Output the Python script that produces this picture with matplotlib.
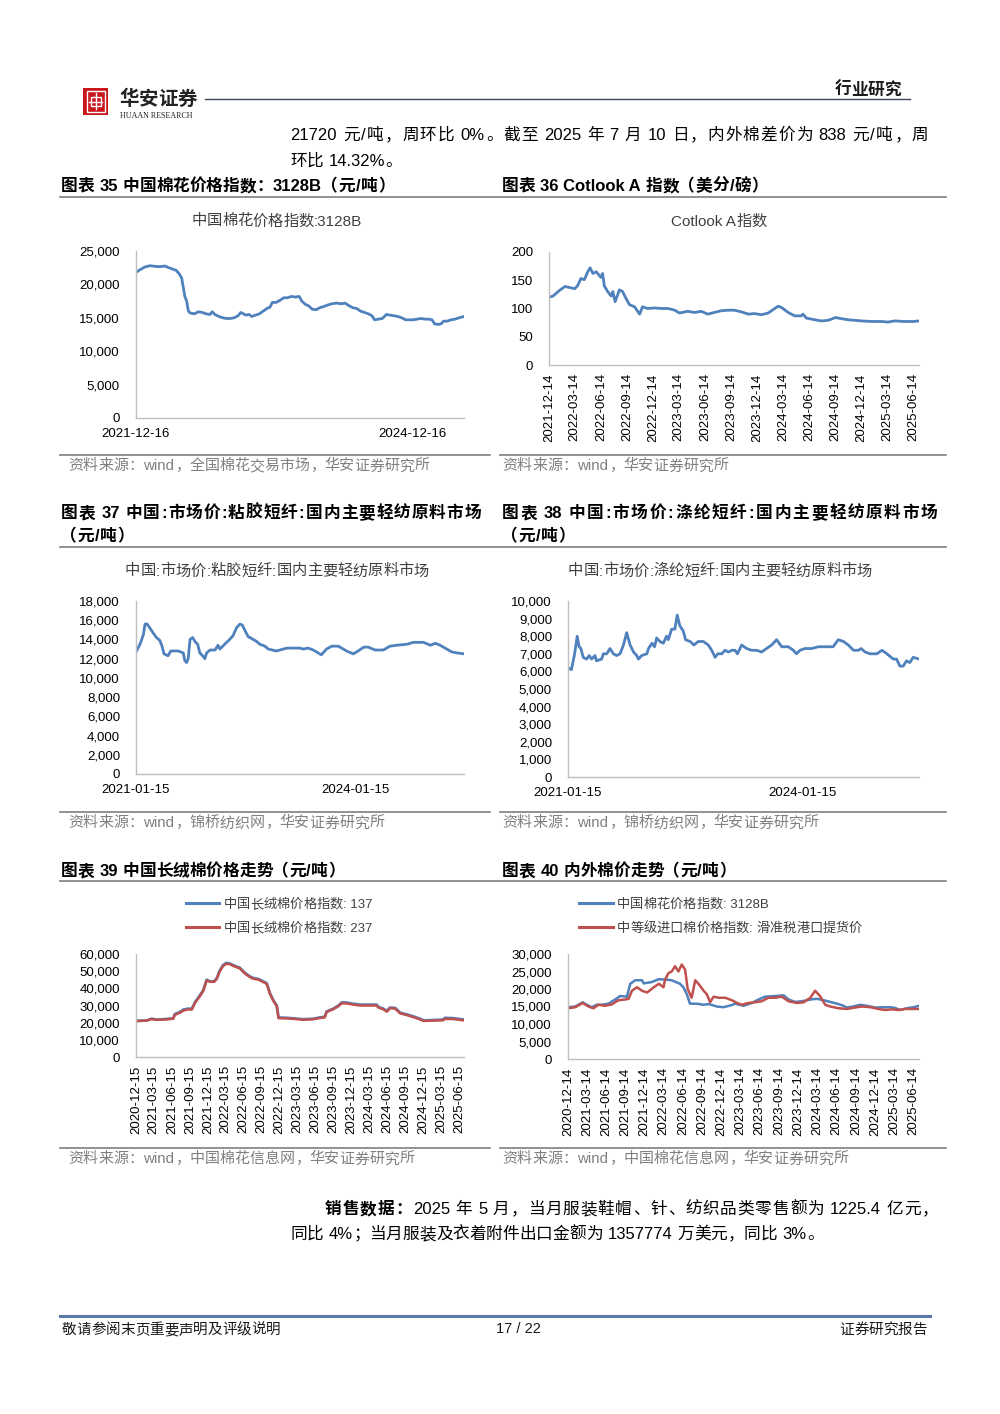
import re
import matplotlib
matplotlib.use('Agg')
import matplotlib.pyplot as plt
import numpy as np
import pandas as pd
from matplotlib.lines import Line2D
from matplotlib.patches import Rectangle
from matplotlib.ticker import FuncFormatter

# ---------------- data ----------------
c35_dates = ['2021-12-16','2022-01-01','2022-01-20','2022-02-10','2022-03-01','2022-03-20','2022-04-10','2022-04-25',
             '2022-05-10','2022-05-25','2022-06-05','2022-06-15','2022-06-22','2022-06-28','2022-07-05','2022-07-12',
             '2022-07-20','2022-08-05','2022-08-20','2022-09-05','2022-09-20','2022-10-05','2022-10-15','2022-10-25',
             '2022-11-10','2022-11-25','2022-12-10','2022-12-25','2023-01-10','2023-01-25','2023-02-05','2023-02-15',
             '2023-02-25','2023-03-10','2023-03-20','2023-04-05','2023-04-20','2023-05-05','2023-05-20','2023-06-01',
             '2023-06-10','2023-06-25','2023-07-10','2023-07-25','2023-08-10','2023-08-25','2023-09-10','2023-09-25',
             '2023-10-05','2023-10-20','2023-11-01','2023-11-15','2023-12-01','2023-12-15','2024-01-01','2024-01-15',
             '2024-02-01','2024-02-20','2024-03-10','2024-03-25','2024-04-10','2024-04-25','2024-05-10','2024-05-25',
             '2024-06-10','2024-06-25','2024-07-10','2024-07-20','2024-08-05','2024-08-20','2024-09-05','2024-09-20',
             '2024-10-05','2024-10-20','2024-11-05','2024-11-20','2024-12-05','2024-12-20','2025-01-05','2025-01-20',
             '2025-02-05','2025-02-20','2025-03-05','2025-03-15','2025-03-30','2025-04-10','2025-04-20','2025-05-05',
             '2025-05-20','2025-06-05','2025-06-20','2025-07-10']
c35_vals = [21800, 22200, 22600, 22800, 22700, 22650, 22750, 22500,
            22300, 22100, 21600, 21000, 19500, 18200, 17500, 16000,
            15700, 15600, 15900, 15800, 15600, 15500, 15900, 15500,
            15200, 15000, 14900, 14900, 15000, 15300, 15800, 15600,
            15400, 15500, 15200, 15400, 15600, 16000, 16400, 16600,
            17300, 17300, 17600, 18000, 18000, 18200, 18100, 18200,
            17500, 17000, 16800, 16300, 16200, 16500, 16700, 16900,
            17100, 17200, 17100, 17200, 16800, 16500, 16400, 16000,
            15800, 15600, 15300, 14700, 14800, 14900, 15500, 15400,
            15300, 15200, 15000, 14700, 14700, 14700, 14800, 14900,
            14800, 14800, 14700, 14100, 14000, 14100, 14500, 14500,
            14700, 14800, 15000, 15200]

c36_dates = ['2021-12-14','2021-12-28','2022-01-20','2022-02-08','2022-02-26','2022-03-14','2022-03-24','2022-04-05',
             '2022-04-17','2022-04-29','2022-05-07','2022-05-17','2022-05-29','2022-06-14','2022-06-20','2022-06-26',
             '2022-07-08','2022-07-20','2022-07-26','2022-08-03','2022-08-18','2022-08-29','2022-09-10','2022-09-22',
             '2022-10-10','2022-10-28','2022-11-07','2022-11-25','2022-12-20','2023-01-14','2023-02-05','2023-02-28',
             '2023-03-17','2023-04-14','2023-05-08','2023-06-01','2023-06-24','2023-07-17','2023-08-10','2023-09-03',
             '2023-09-26','2023-10-20','2023-11-14','2023-12-05','2023-12-29','2024-01-22','2024-02-14','2024-02-26',
             '2024-03-08','2024-04-01','2024-04-24','2024-05-17','2024-05-23','2024-06-04','2024-07-04','2024-07-26',
             '2024-08-19','2024-09-14','2024-10-05','2024-10-29','2024-11-22','2024-12-14','2025-01-20','2025-02-23',
             '2025-03-17','2025-04-10','2025-05-14','2025-06-14','2025-07-04']
c36_vals = [120, 122, 132, 139, 137, 135, 140, 153,
            151, 165, 172, 162, 165, 155, 162, 140,
            130, 122, 130, 112, 133, 130, 118, 107,
            103, 90, 103, 100, 101, 100, 100, 97,
            92, 95, 93, 95, 90, 93, 96, 97,
            97, 94, 90, 91, 89, 92, 100, 104,
            102, 93, 87, 87, 90, 83, 80, 78,
            79, 84, 82, 80, 79, 78, 77, 77,
            76, 78, 77, 77, 78]
c36_ticks = ['2021-12-14','2022-03-14','2022-06-14','2022-09-14','2022-12-14','2023-03-14','2023-06-14',
             '2023-09-14','2023-12-14','2024-03-14','2024-06-14','2024-09-14','2024-12-14','2025-03-14','2025-06-14']

c37_dates = ['2021-01-15','2021-02-04','2021-02-21','2021-03-01','2021-03-12','2021-03-25','2021-04-10','2021-04-27',
             '2021-05-14','2021-05-25','2021-06-04','2021-06-24','2021-07-08','2021-08-14','2021-09-08','2021-09-16',
             '2021-09-25','2021-10-03','2021-10-12','2021-10-25','2021-11-05','2021-11-19','2021-11-30','2021-12-14',
             '2021-12-25','2022-01-03','2022-01-20','2022-02-14','2022-03-01','2022-03-10','2022-04-03','2022-04-28',
             '2022-05-15','2022-06-01','2022-06-18','2022-06-30','2022-07-12','2022-07-29','2022-08-24','2022-09-09',
             '2022-09-26','2022-10-21','2022-11-07','2022-12-18','2023-01-21','2023-02-08','2023-04-14','2023-05-01',
             '2023-05-25','2023-06-20','2023-07-14','2023-07-30','2023-08-25','2023-09-20','2023-10-23','2023-12-03',
             '2024-01-06','2024-01-30','2024-02-27','2024-03-20','2024-04-24','2024-06-04','2024-07-07','2024-08-10',
             '2024-09-30','2024-11-02','2024-12-21','2025-01-25','2025-02-19','2025-03-14','2025-04-17','2025-05-12',
             '2025-06-06','2025-07-12']
c37_vals = [12700, 13500, 14500, 15600, 15600, 15200, 14700, 14200,
            13900, 13300, 12500, 12300, 12800, 12800, 12600, 11800,
            11600, 12000, 14000, 14200, 13800, 13500, 12600, 12300,
            12000, 12600, 12900, 12900, 13400, 13000, 13500, 14000,
            14400, 15200, 15600, 15500, 15000, 14300, 14000, 13800,
            13500, 13300, 13000, 12800, 13000, 13100, 13100, 13000,
            13100, 12900, 12600, 12400, 13000, 13300, 13300, 12800,
            12500, 12800, 13200, 13200, 12900, 12900, 13300, 13400,
            13500, 13700, 13700, 13400, 13600, 13400, 13000, 12700,
            12600, 12500]

c38_dates = ['2021-01-15','2021-01-31','2021-02-15','2021-02-27','2021-03-08','2021-03-16','2021-03-27','2021-04-12',
             '2021-04-24','2021-05-05','2021-05-21','2021-05-28','2021-06-21','2021-06-29','2021-07-15','2021-07-30',
             '2021-08-15','2021-08-30','2021-09-15','2021-10-01','2021-10-16','2021-11-01','2021-11-17','2021-12-02',
             '2021-12-10','2021-12-25','2022-01-18','2022-01-26','2022-02-11','2022-02-23','2022-03-05','2022-03-20',
             '2022-04-05','2022-04-20','2022-04-28','2022-05-14','2022-05-29','2022-06-09','2022-06-21','2022-07-07',
             '2022-07-18','2022-08-08','2022-08-26','2022-09-15','2022-10-09','2022-11-01','2022-11-17','2022-12-03',
             '2022-12-15','2023-01-03','2023-01-18','2023-02-03','2023-02-19','2023-03-06','2023-03-17','2023-04-06',
             '2023-04-29','2023-05-22','2023-06-15','2023-07-08','2023-07-31','2023-08-24','2023-09-16','2023-10-10',
             '2023-11-10','2023-12-03','2023-12-18','2024-01-03','2024-01-27','2024-02-27','2024-03-29','2024-04-29',
             '2024-06-06','2024-06-30','2024-07-24','2024-08-16','2024-09-09','2024-10-02','2024-10-15','2024-11-02',
             '2024-11-26','2024-12-27','2025-01-20','2025-02-12','2025-03-14','2025-03-29','2025-04-14','2025-04-29',
             '2025-05-15','2025-05-30','2025-06-15','2025-07-12']
c38_vals = [6200, 6100, 7000, 8000, 7400, 7300, 6800, 6700,
            6900, 6700, 6900, 6600, 6700, 7000, 7000, 7300,
            7000, 6900, 7000, 7500, 8200, 7500, 7100, 6900,
            6700, 6900, 7000, 7300, 7600, 7400, 7900, 7700,
            7600, 8000, 7800, 8400, 8400, 9200, 8600, 8300,
            7800, 7700, 7500, 7700, 7700, 7500, 7200, 6800,
            7000, 7000, 7200, 7100, 7200, 7200, 7000, 7500,
            7300, 7200, 7200, 7100, 7300, 7500, 7800, 7400,
            7400, 7200, 7000, 7200, 7300, 7300, 7400, 7400,
            7400, 7800, 7700, 7500, 7200, 7200, 7300, 7100,
            7000, 7000, 7200, 7000, 6700, 6700, 6300, 6300,
            6600, 6500, 6800, 6700]

c39_dates = ['2020-12-15','2021-02-08','2021-03-04','2021-03-29','2021-05-02','2021-06-05','2021-06-22','2021-06-30',
             '2021-07-26','2021-08-12','2021-09-07','2021-09-24','2021-10-11','2021-11-05','2021-11-22','2021-12-09',
             '2021-12-26','2022-01-16','2022-01-30','2022-02-12','2022-03-02','2022-03-19','2022-04-05','2022-04-22',
             '2022-05-26','2022-06-21','2022-07-16','2022-08-02','2022-08-28','2022-09-23','2022-10-10','2022-10-27',
             '2022-11-13','2022-11-30','2022-12-09','2023-01-20','2023-02-24','2023-04-14','2023-06-04','2023-07-06',
             '2023-08-01','2023-08-10','2023-09-14','2023-10-09','2023-10-26','2023-11-20','2023-12-24','2024-01-27',
             '2024-04-20','2024-04-29','2024-05-24','2024-06-11','2024-06-27','2024-07-23','2024-08-18','2024-09-21',
             '2024-10-25','2024-11-28','2024-12-15','2025-02-04','2025-03-24','2025-04-02','2025-05-15','2025-07-08']
c39_137 = [21000, 21300, 22300, 21800, 22000, 22300, 22500, 25000,
           26200, 27600, 28200, 28000, 32000, 36000, 39000, 45000,
           44000, 44000, 46000, 50000, 53500, 54800, 54500, 53500,
           52000, 49000, 47000, 46000, 45500, 44000, 43000, 37000,
           33000, 30000, 23000, 22800, 22500, 22000, 22300, 23000,
           23500, 26500, 28200, 30000, 31800, 31700, 31000, 30500,
           30500, 29200, 28200, 26800, 28800, 28600, 25800, 24800,
           23600, 22200, 21300, 21500, 21800, 22800, 22600, 21800]
c39_237 = [21000, 21200, 22100, 21600, 21800, 22100, 22300, 24500,
           25800, 27000, 27800, 27600, 31500, 35500, 38600, 44600,
           43800, 43800, 45600, 49600, 53000, 54300, 54100, 53100,
           51600, 48600, 46600, 45600, 45100, 43600, 42600, 36600,
           32600, 29600, 22600, 22500, 22200, 21700, 22000, 22700,
           23100, 26200, 27900, 29600, 31300, 31200, 30500, 30000,
           30000, 28800, 27800, 26400, 28400, 28200, 25400, 24400,
           23200, 21800, 21000, 21200, 21400, 22200, 22100, 21300]
c39_ticks = ['2020-12-15','2021-03-15','2021-06-15','2021-09-15','2021-12-15','2022-03-15','2022-06-15',
             '2022-09-15','2022-12-15','2023-03-15','2023-06-15','2023-09-15','2023-12-15','2024-03-15',
             '2024-06-15','2024-09-15','2024-12-15','2025-03-15','2025-06-15']

c40_cn_dates = ['2020-12-14','2021-01-18','2021-02-22','2021-03-13','2021-04-06','2021-04-30','2021-05-24','2021-06-24',
                '2021-07-26','2021-08-19','2021-09-20','2021-10-06','2021-10-30','2021-12-01','2021-12-09','2022-01-17',
                '2022-02-19','2022-03-20','2022-04-21','2022-05-30','2022-06-16','2022-07-02','2022-07-17','2022-08-18',
                '2022-09-20','2022-10-13','2022-11-22','2022-12-23','2023-01-25','2023-02-18','2023-03-28','2023-05-07',
                '2023-06-08','2023-07-09','2023-08-26','2023-10-05','2023-10-29','2023-11-29','2023-12-31','2024-02-09',
                '2024-03-11','2024-04-12','2024-05-21','2024-06-22','2024-07-16','2024-07-31','2024-08-31','2024-10-03',
                '2024-11-04','2024-12-14','2025-01-23','2025-02-24','2025-03-18','2025-04-11','2025-05-13','2025-06-14',
                '2025-07-10']
c40_cn_vals = [14800, 15000, 16200, 15500, 14800, 15500, 15500, 15800,
               17000, 18000, 17800, 21500, 22500, 22500, 21600, 22000,
               22800, 22700, 22500, 21500, 20500, 18500, 15800, 15800,
               15500, 15700, 15000, 14800, 15300, 15800, 15200, 16000,
               17000, 17800, 18000, 18200, 17000, 16300, 16500, 17000,
               17200, 16800, 16200, 15700, 15200, 14700, 15000, 15500,
               15200, 14700, 14800, 14800, 14600, 14000, 14500, 14800,
               15200]
c40_imp_dates = ['2020-12-14','2021-01-18','2021-02-22','2021-03-21','2021-04-14','2021-05-08','2021-06-08','2021-07-10',
                 '2021-08-11','2021-09-13','2021-09-28','2021-10-14','2021-11-07','2021-12-01','2021-12-25','2022-01-26',
                 '2022-02-19','2022-03-13','2022-03-20','2022-04-05','2022-04-21','2022-05-07','2022-05-23','2022-06-08',
                 '2022-06-24','2022-07-06','2022-07-25','2022-08-11','2022-08-26','2022-09-20','2022-10-05','2022-10-21',
                 '2022-11-06','2022-11-30','2022-12-31','2023-02-01','2023-02-26','2023-03-20','2023-04-20','2023-05-22',
                 '2023-06-23','2023-07-25','2023-08-26','2023-09-26','2023-10-29','2023-12-08','2024-01-08','2024-02-09',
                 '2024-03-03','2024-03-26','2024-04-20','2024-05-14','2024-06-22','2024-07-31','2024-09-08','2024-10-11',
                 '2024-11-20','2024-12-29','2025-01-31','2025-03-04','2025-04-04','2025-05-05','2025-06-14','2025-07-10']
c40_imp_vals = [14500, 14800, 16000, 15000, 14500, 15500, 15200, 15600,
                16800, 17000, 17200, 19500, 20500, 19500, 19000, 20500,
                21500, 20500, 22500, 24500, 25000, 26500, 25000, 27000,
                25500, 20000, 17500, 22500, 21500, 19500, 18500, 16200,
                17800, 17500, 17500, 16800, 16000, 15500, 16000, 16200,
                16500, 17500, 17500, 17800, 16500, 16000, 16200, 17500,
                19500, 18000, 15500, 15000, 14500, 14300, 14700, 15000,
                14800, 14300, 14000, 14200, 14000, 14300, 14300, 14300]
c40_ticks = ['2020-12-14','2021-03-14','2021-06-14','2021-09-14','2021-12-14','2022-03-14','2022-06-14',
             '2022-09-14','2022-12-14','2023-03-14','2023-06-14','2023-09-14','2023-12-14','2024-03-14',
             '2024-06-14','2024-09-14','2024-12-14','2025-03-14','2025-06-14']

# ---------------- styling ----------------
W, H, DPI = 1000, 1414, 100
LAT = 'Liberation Sans'
CJK = 'Noto Sans CJK SC'
plt.rcParams['font.family'] = [LAT, CJK, 'DejaVu Sans']
BLUE = '#4f81bd'
RED = '#c0504d'
AXC = '#bfbfbf'
RULE = '#7f7f7f'
SRC = '#808080'

fig = plt.figure(figsize=(W / DPI, H / DPI), dpi=DPI)
renderer = fig.canvas.get_renderer()


def fx(x):
    return x / W


def fy(y):
    return 1 - y / H


def hline(x0, x1, y, color=RULE, lw=1.2):
    fig.add_artist(Line2D([fx(x0), fx(x1)], [fy(y), fy(y)], transform=fig.transFigure, color=color, lw=lw))


_A = r'[A-Za-z0-9.,%/:\-]'
TOK = re.compile(_A + r'+(?: ' + _A + r'+)*|\s|.')
LEFTP = set('，。：；、）')
RIGHTP = set('（')


def ctext(segs, x0, y, fs, x1=None, ha='left', color='#000000'):
    em = fs * DPI / 72.0
    base = fy(y + 0.36 * em)
    items = []
    for txt, wt in segs:
        for m in TOK.finditer(txt):
            items.append((m.group(0), wt))
    arts = []
    for tok, wt in items:
        if tok.isspace():
            if arts:
                arts[-1][3] += 0.28 * em
            continue
        if len(tok) == 1 and ord(tok) >= 0x2E80:
            mode = 'l' if tok in LEFTP else ('r' if tok in RIGHTP else 'c')
            t = fig.text(0, base, tok, fontsize=fs, weight=wt, color=color, family=[CJK],
                         va='baseline', ha={'l': 'left', 'r': 'right', 'c': 'center'}[mode])
            arts.append([t, em, mode, 0.0])
        else:
            t = fig.text(0, base, tok, fontsize=fs, weight=wt, color=color, family=[LAT],
                         va='baseline', ha='left')
            w = t.get_window_extent(renderer).width + 0.03 * em
            arts.append([t, w, 'a', 0.0])
    total = sum(a[1] + a[3] for a in arts) - arts[-1][3]
    gap = 0.0
    if x1 is not None and len(arts) > 1:
        gap = (x1 - x0 - total) / (len(arts) - 1)
    elif ha == 'center':
        x0 = x0 - total / 2
    elif ha == 'right':
        x0 = x0 - total
    x = x0
    for t, w, mode, sp in arts:
        if mode == 'c':
            p = x + w / 2
        elif mode == 'l':
            p = x + 0.04 * em
        elif mode == 'r':
            p = x + w - 0.06 * em
        else:
            p = x + 0.02 * em
        t.set_x(fx(p))
        x += w + sp + gap


def make_ax(x0, x1, ytop, ybot, ymax, ystep):
    ax = fig.add_axes([fx(x0), fy(ybot), (x1 - x0) / W, (ybot - ytop) / H])
    ax.patch.set_alpha(0)
    for s in ['top', 'right']:
        ax.spines[s].set_visible(False)
    for s in ['left', 'bottom']:
        ax.spines[s].set_color(AXC)
        ax.spines[s].set_linewidth(1.0)
    ax.set_ylim(0, ymax)
    ax.set_yticks(np.arange(0, ymax + 1, ystep))
    ax.yaxis.set_major_formatter(FuncFormatter(lambda v, p: f'{v:,.0f}'))
    ax.tick_params(length=0, labelsize=9.5, colors='#000000')
    ax.tick_params(axis='y', pad=11.5)
    return ax


def date_ticks(ax, ticks, rot=0, pad=7):
    td = pd.to_datetime(ticks)
    ax.set_xticks(td)
    ax.set_xticklabels(ticks, rotation=rot)
    ax.tick_params(axis='x', pad=pad)


# ---------------- header ----------------
fig.add_artist(Rectangle((fx(83), fy(115)), 25 / W, 27 / H, transform=fig.transFigure,
                         facecolor='#c8161d', edgecolor='none'))
fig.add_artist(Rectangle((fx(86.5), fy(111.5)), 18 / W, 20 / H, transform=fig.transFigure,
                         facecolor='none', edgecolor='white', lw=1.0))
fig.add_artist(Rectangle((fx(90.5), fy(106)), 10 / W, 9 / H, transform=fig.transFigure,
                         facecolor='none', edgecolor='white', lw=1.0))
fig.add_artist(Line2D([fx(95.5), fx(95.5)], [fy(93), fy(109)], transform=fig.transFigure, color='white', lw=1.0))
fig.add_artist(Line2D([fx(89), fx(102)], [fy(101.5), fy(101.5)], transform=fig.transFigure, color='white', lw=1.0))
ctext([('华安证券', 'bold')], 119, 98, 14, color='#222222')
fig.text(fx(120), fy(116), 'HUAAN RESEARCH', fontsize=5.8, family=['Liberation Serif'], va='center', color='#222222')
hline(205, 910, 99, color='#3b4758', lw=1.0)
ctext([('行业研究', 'bold')], 901, 89, 12, ha='right', color='#1a1a1a')

ctext([('21720 元/吨，周环比 0%。截至 2025 年 7 月 10 日，内外棉差价为 838 元/吨，周', 'normal')], 290, 134, 12, x1=928)
ctext([('环比 14.32%。', 'normal')], 290, 160, 12)

# ---------------- row 1 ----------------
ctext([('图表 35 中国棉花价格指数：3128B（元/吨）', 'bold')], 61, 185, 12)
ctext([('图表 36 Cotlook A 指数（美分/磅）', 'bold')], 502, 185, 12)
hline(60, 946, 197)

ctext([('中国棉花价格指数:3128B', 'normal')], 277, 220, 11, ha='center', color='#404040')
ctext([('Cotlook A指数', 'normal')], 719, 220, 11, ha='center', color='#404040')

ax = make_ax(136, 464, 251, 418, 25000, 5000)
ax.plot(pd.to_datetime(c35_dates), c35_vals, color=BLUE, lw=2.0, solid_joinstyle='round')
ax.set_xlim(pd.Timestamp('2021-12-16'), pd.Timestamp('2025-07-10'))
date_ticks(ax, ['2021-12-16', '2024-12-16'], pad=7)

ax = make_ax(549, 919, 252, 365, 200, 50)
ax.plot(pd.to_datetime(c36_dates), c36_vals, color=BLUE, lw=2.0, solid_joinstyle='round')
ax.set_xlim(pd.Timestamp('2021-12-14'), pd.Timestamp('2025-07-04'))
date_ticks(ax, c36_ticks, rot=90, pad=6)

hline(60, 490, 455)
hline(500, 946, 455)
ctext([('资料来源：wind，全国棉花交易市场，华安证券研究所', 'normal')], 68, 465, 10.8, color=SRC)
ctext([('资料来源：wind，华安证券研究所', 'normal')], 502, 465, 10.8, color=SRC)

# ---------------- row 2 ----------------
ctext([('图表 37 中国:市场价:粘胶短纤:国内主要轻纺原料市场', 'bold')], 61, 512, 12, x1=481)
ctext([('（元/吨）', 'bold')], 61, 535, 12)
ctext([('图表 38 中国:市场价:涤纶短纤:国内主要轻纺原料市场', 'bold')], 502, 512, 12, x1=937)
ctext([('（元/吨）', 'bold')], 502, 535, 12)
hline(60, 946, 547)

ctext([('中国:市场价:粘胶短纤:国内主要轻纺原料市场', 'normal')], 277, 570, 11, ha='center', color='#404040')
ctext([('中国:市场价:涤纶短纤:国内主要轻纺原料市场', 'normal')], 720, 570, 11, ha='center', color='#404040')

ax = make_ax(136, 464, 601, 774, 18000, 2000)
ax.plot(pd.to_datetime(c37_dates), c37_vals, color=BLUE, lw=2.0, solid_joinstyle='round')
ax.set_xlim(pd.Timestamp('2021-01-15'), pd.Timestamp('2025-07-12'))
date_ticks(ax, ['2021-01-15', '2024-01-15'], pad=7)

ax = make_ax(568, 919, 601, 777, 10000, 1000)
ax.plot(pd.to_datetime(c38_dates), c38_vals, color=BLUE, lw=2.0, solid_joinstyle='round')
ax.set_xlim(pd.Timestamp('2021-01-15'), pd.Timestamp('2025-07-12'))
date_ticks(ax, ['2021-01-15', '2024-01-15'], pad=7)

hline(60, 490, 812)
hline(500, 946, 812)
ctext([('资料来源：wind，锦桥纺织网，华安证券研究所', 'normal')], 68, 822, 10.8, color=SRC)
ctext([('资料来源：wind，锦桥纺织网，华安证券研究所', 'normal')], 502, 822, 10.8, color=SRC)

# ---------------- row 3 ----------------
ctext([('图表 39 中国长绒棉价格走势（元/吨）', 'bold')], 61, 870, 12)
ctext([('图表 40 内外棉价走势（元/吨）', 'bold')], 502, 870, 12)
hline(60, 946, 881)

fig.add_artist(Line2D([fx(186), fx(219)], [fy(903), fy(903)], transform=fig.transFigure, color=BLUE, lw=2.2))
fig.add_artist(Line2D([fx(186), fx(219)], [fy(927), fy(927)], transform=fig.transFigure, color=RED, lw=2.2))
ctext([('中国长绒棉价格指数: 137', 'normal')], 224, 903, 9.5, color='#404040')
ctext([('中国长绒棉价格指数: 237', 'normal')], 224, 927, 9.5, color='#404040')
fig.add_artist(Line2D([fx(579), fx(613)], [fy(903), fy(903)], transform=fig.transFigure, color=BLUE, lw=2.2))
fig.add_artist(Line2D([fx(579), fx(613)], [fy(927), fy(927)], transform=fig.transFigure, color=RED, lw=2.2))
ctext([('中国棉花价格指数: 3128B', 'normal')], 617, 903, 9.5, color='#404040')
ctext([('中等级进口棉价格指数: 滑准税港口提货价', 'normal')], 617, 927, 9.5, color='#404040')

ax = make_ax(136, 464, 954, 1057, 60000, 10000)
ax.plot(pd.to_datetime(c39_dates), c39_137, color=BLUE, lw=2.0, solid_joinstyle='round')
ax.plot(pd.to_datetime(c39_dates), c39_237, color=RED, lw=1.8, solid_joinstyle='round')
ax.set_xlim(pd.Timestamp('2020-12-15'), pd.Timestamp('2025-07-08'))
date_ticks(ax, c39_ticks, rot=90, pad=6)

ax = make_ax(568, 919, 954, 1059, 30000, 5000)
ax.plot(pd.to_datetime(c40_cn_dates), c40_cn_vals, color=BLUE, lw=1.8, solid_joinstyle='round')
ax.plot(pd.to_datetime(c40_imp_dates), c40_imp_vals, color=RED, lw=1.8, solid_joinstyle='round')
ax.set_xlim(pd.Timestamp('2020-12-14'), pd.Timestamp('2025-07-10'))
date_ticks(ax, c40_ticks, rot=90, pad=6)

hline(60, 490, 1148)
hline(500, 946, 1148)
ctext([('资料来源：wind，中国棉花信息网，华安证券研究所', 'normal')], 68, 1158, 10.8, color=SRC)
ctext([('资料来源：wind，中国棉花信息网，华安证券研究所', 'normal')], 502, 1158, 10.8, color=SRC)

# ---------------- body + footer ----------------
ctext([('销售数据：', 'bold'), ('2025 年 5 月，当月服装鞋帽、针、纺织品类零售额为 1225.4 亿元，', 'normal')],
      325, 1208, 12, x1=938)
ctext([('同比 4%；当月服装及衣着附件出口金额为 1357774 万美元，同比 3%。', 'normal')], 290, 1233, 12)

hline(60, 930, 1316, color='#5a78a8', lw=2.2)
ctext([('敬请参阅末页重要声明及评级说明', 'normal')], 62, 1329, 10.5, color='#1a1a1a')
fig.text(fx(518), fy(1329), '17 / 22', fontsize=10.5, ha='center', va='center', family=[LAT], color='#1a1a1a')
ctext([('证券研究报告', 'normal')], 927, 1329, 10.5, ha='right', color='#1a1a1a')

fig.savefig('out.png', dpi=DPI)
